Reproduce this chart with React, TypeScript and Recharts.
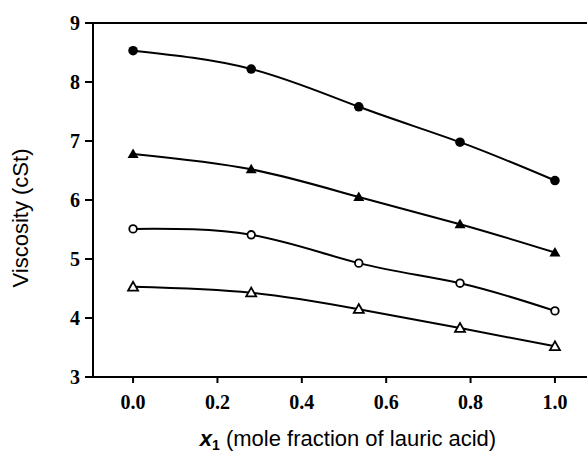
import {
  LineChart,
  Line,
  XAxis,
  YAxis,
  ReferenceLine,
  Label,
} from "recharts";

// mole fraction of lauric acid
const moleFractions = [0, 0.28, 0.535, 0.775, 1.0];

// viscosity (cSt) for the four curves, top to bottom
const filledCircleSeries = [8.53, 8.22, 7.58, 6.98, 6.33];
const filledTriangleSeries = [6.78, 6.52, 6.05, 5.59, 5.11];
const openCircleSeries = [5.51, 5.41, 4.93, 4.59, 4.12];
const openTriangleSeries = [4.53, 4.43, 4.15, 3.83, 3.52];

const xTicks = [0, 0.2, 0.4, 0.6, 0.8, 1.0];
const yTicks = [3, 4, 5, 6, 7, 8, 9];

const data = moleFractions.map((x, i) => ({
  x,
  a: filledCircleSeries[i],
  b: filledTriangleSeries[i],
  c: openCircleSeries[i],
  d: openTriangleSeries[i],
}));

type DotProps = { cx?: number; cy?: number; index?: number };

const FilledCircle = ({ cx, cy, index }: DotProps) => (
  <circle key={`fc-${index}`} cx={cx} cy={cy} r={4.8} fill="#000" />
);

const FilledTriangle = ({ cx = 0, cy = 0, index }: DotProps) => (
  <polygon
    key={`ft-${index}`}
    points={`${cx},${cy - 5.5} ${cx - 5.5},${cy + 4} ${cx + 5.5},${cy + 4}`}
    fill="#000"
  />
);

const OpenCircle = ({ cx, cy, index }: DotProps) => (
  <circle key={`oc-${index}`} cx={cx} cy={cy} r={3.8} fill="#fff" stroke="#000" strokeWidth={1.8} />
);

const OpenTriangle = ({ cx = 0, cy = 0, index }: DotProps) => (
  <polygon
    key={`ot-${index}`}
    points={`${cx},${cy - 5} ${cx - 5},${cy + 3.8} ${cx + 5},${cy + 3.8}`}
    fill="#fff"
    stroke="#000"
    strokeWidth={1.8}
  />
);

const tickStyle = {
  fontFamily: "'Liberation Serif', serif",
  fontWeight: "bold" as const,
  fontSize: 20,
  fill: "#000",
};

const titleFont = "'Liberation Sans', Arial, sans-serif";

// x axis title with subscript
const XTitle = () => (
  <text x={348} y={446} textAnchor="middle" fontFamily={titleFont} fontSize={22} fill="#000">
    <tspan fontStyle="italic" fontWeight="bold">x</tspan>
    <tspan fontSize={14} fontWeight="bold" dy={4}>1</tspan>
    <tspan dy={-4}>{"  (mole fraction of lauric acid)"}</tspan>
  </text>
);

const YTitle = () => (
  <text
    x={28}
    y={218}
    transform="rotate(-90, 28, 218)"
    textAnchor="middle"
    fontFamily={titleFont}
    fontSize={22}
    fill="#000"
  >
    Viscosity (cSt)
  </text>
);

export default function App() {
  return (
    <div style={{ position: "absolute", left: 0, top: 0, background: "#fff" }}>
      <LineChart
        width={587}
        height={453}
        data={data}
        margin={{ top: 23, right: 0, bottom: 36, left: 0 }}
      >
        <XAxis
          dataKey="x"
          type="number"
          domain={[-0.095, 1.076]}
          ticks={xTicks}
          allowDataOverflow
          tickFormatter={(v: number) => v.toFixed(1)}
          tick={tickStyle}
          tickSize={6}
          tickMargin={12}
          height={40}
          axisLine={{ stroke: "#000", strokeWidth: 2 }}
          tickLine={{ stroke: "#000", strokeWidth: 2 }}
        >
          <Label content={<XTitle />} />
        </XAxis>
        <YAxis
          type="number"
          domain={[3, 9]}
          ticks={yTicks}
          allowDataOverflow
          tick={tickStyle}
          tickSize={8}
          tickMargin={5}
          width={93}
          axisLine={{ stroke: "#000", strokeWidth: 2 }}
          tickLine={{ stroke: "#000", strokeWidth: 2 }}
        >
          <Label content={<YTitle />} />
        </YAxis>
        <ReferenceLine y={9} stroke="#000" strokeWidth={2} />
        <Line
          type="natural"
          dataKey="a"
          stroke="#000"
          strokeWidth={2}
          dot={FilledCircle}
          isAnimationActive={false}
        />
        <Line
          type="natural"
          dataKey="b"
          stroke="#000"
          strokeWidth={2}
          dot={FilledTriangle}
          isAnimationActive={false}
        />
        <Line
          type="natural"
          dataKey="c"
          stroke="#000"
          strokeWidth={2}
          dot={OpenCircle}
          isAnimationActive={false}
        />
        <Line
          type="natural"
          dataKey="d"
          stroke="#000"
          strokeWidth={2}
          dot={OpenTriangle}
          isAnimationActive={false}
        />
      </LineChart>
    </div>
  );
}
